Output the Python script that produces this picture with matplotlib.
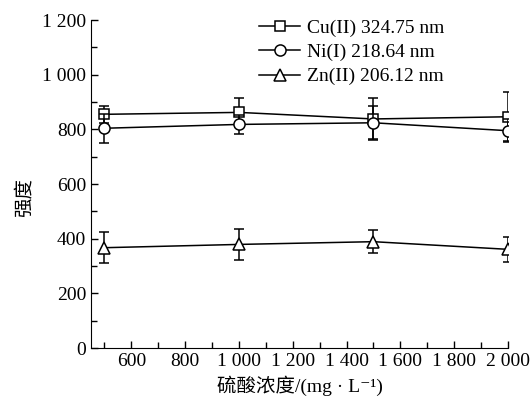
import matplotlib
matplotlib.use("Agg")
import matplotlib.pyplot as plt
from matplotlib.ticker import FuncFormatter, MultipleLocator

# concentration of sulfuric acid (mg/L)
conc = [500, 1000, 1500, 2000]

cu_vals = [855, 862, 838, 846]
cu_err = [32, 54, 75, 90]
ni_vals = [804, 818, 824, 795]
ni_err = [53, 36, 62, 42]
zn_vals = [367, 379, 389, 361]
zn_err = [56, 56, 43, 45]

labels = ["Cu(II) 324.75 nm", "Ni(I) 218.64 nm", "Zn(II) 206.12 nm"]

plt.rcParams['font.family'] = ['Liberation Serif', 'Noto Sans CJK SC', 'DejaVu Sans']
plt.rcParams['font.size'] = 14

fig = plt.figure(figsize=(5.3, 4.05), dpi=100)
ax = fig.add_axes([0.1717, 0.1407, 0.7868, 0.8099])

series = [(cu_vals, cu_err, 's', 6.5), (ni_vals, ni_err, 'o', 8), (zn_vals, zn_err, '^', 9)]
for (vals, err, mk, ms), lab in zip(series, labels):
    ax.errorbar(conc, vals, yerr=err, fmt='none', ecolor='black', elinewidth=1.1,
                capsize=3.5, capthick=1.1)
    ax.plot(conc, vals, color='black', lw=1.1, marker=mk, ms=ms,
            mfc='white', mec='black', mew=1.1, label=lab)

ax.set_xlim(450, 2000)
ax.set_ylim(0, 1200)
ax.xaxis.set_major_locator(MultipleLocator(200))
ax.xaxis.set_minor_locator(MultipleLocator(100))
ax.yaxis.set_major_locator(MultipleLocator(200))
ax.yaxis.set_minor_locator(MultipleLocator(100))

def thousands(v, pos):
    return f"{int(v):,}".replace(",", " ")

ax.xaxis.set_major_formatter(FuncFormatter(thousands))
ax.yaxis.set_major_formatter(FuncFormatter(thousands))
ax.set_xticks([600, 800, 1000, 1200, 1400, 1600, 1800, 2000])

ax.spines['top'].set_visible(False)
ax.spines['right'].set_visible(False)
ax.tick_params(which='both', direction='in', width=1)
ax.tick_params(which='major', length=5, labelsize=14)
ax.tick_params(which='minor', length=4)

ax.set_xlabel("硫酸浓度/(mg · L⁻¹)", fontsize=14, labelpad=4)
ax.set_ylabel("强度", fontsize=14)
ax.yaxis.set_label_coords(-0.137, 0.46)

leg = ax.legend(loc='upper left', bbox_to_anchor=(0.385, 1.025), frameon=False,
                fontsize=14, handlelength=2.1, handletextpad=0.35, labelspacing=0.33,
                borderaxespad=0)

fig.savefig("out.png", dpi=100)
